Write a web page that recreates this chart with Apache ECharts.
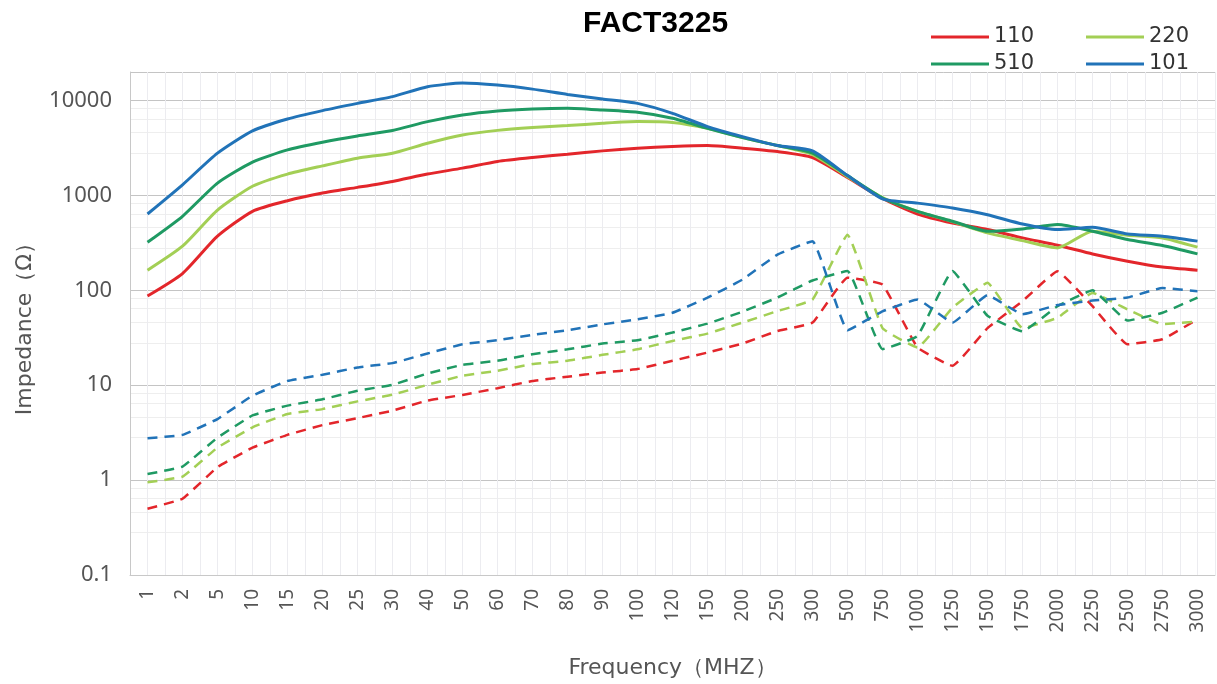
<!DOCTYPE html>
<html>
<head>
<meta charset="utf-8">
<script src="https://cdn.jsdelivr.net/npm/echarts@6/dist/echarts.min.js"></script>
<style>html,body{margin:0;padding:0;background:#fff}#c{width:1217px;height:684px}</style>
</head>
<body>
<div id="c"></div>
<script>
const categories = ['1','2','5','10','15','20','25','30','40','50','60','70','80','90','100','120','150','200','250','300','500','750','1000','1250','1500','1750','2000','2250','2500','2750','3000'];
const yTickLabels = ['0.1','1','10','100','1000','10000'];

const solid110 = [87,150,372,680,880,1060,1217,1406,1680,1940,2280,2510,2720,2950,3150,3280,3355,3150,2900,2510,1550,930,638,513,437,357,299,242,203,176,163];
const solid220 = [163,292,700,1250,1680,2050,2470,2790,3550,4340,4850,5190,5450,5760,6000,5880,5100,4070,3355,2700,1580,950,680,530,403,334,280,420,381,357,285];
const solid510 = [321,603,1350,2245,3020,3640,4240,4830,6000,7050,7770,8150,8300,7940,7510,6500,5100,4070,3355,2790,1620,940,680,535,420,444,493,420,343,297,242];
const solid101 = [638,1295,2790,4790,6400,7840,9340,11000,14000,15300,14550,13200,11600,10400,9340,7340,5320,4170,3355,2950,1620,920,830,738,626,500,437,462,393,372,330];

const dashed110 = [0.5,0.636,1.37,2.2,3.0,3.8,4.5,5.4,6.9,7.9,9.3,11.1,12.3,13.6,14.8,18.1,22.1,27.5,37.3,45.7,136,115,25,16,40,77,159,68,27,30.5,49.5];
const dashed220 = [0.95,1.09,2.2,3.6,4.97,5.6,6.76,7.94,10.1,12.6,14.2,16.7,18.1,20.9,23.9,29.3,35,45.7,60.5,80,386,40,25,65.6,120,40,51.5,94,63,44,47];
const dashed510 = [1.16,1.39,2.8,4.8,6.1,7.1,8.75,10.1,13.3,16.4,18.1,21.2,23.9,27.5,29.8,35.9,44.6,59.6,84,127,160,24,33,160,54,37,68,100,48,58,84];
const dashed101 = [2.76,3.0,4.4,7.76,11.1,12.9,15.4,17.1,21.6,27,29.8,33.9,37.9,43.8,49.5,58,83.6,130,238,330,38,60,80,45.7,89,56,70,78,84,106,98];

const C110 = '#e3262b', C220 = '#a3cf55', C510 = '#1f9a63', C101 = '#2173b8';

function solid(name, data, color) {
  return { name, type: 'line', data, symbol: 'none', smooth: 0.2, color,
    lineStyle: { width: 3, color }, xAxisIndex: 0, yAxisIndex: 0, z: 3 };
}
function dashed(name, data, color) {
  return { name, type: 'line', data, symbol: 'none', smooth: 0.1, color,
    lineStyle: { width: 2.5, color, type: [10, 7] }, xAxisIndex: 0, yAxisIndex: 0, z: 2 };
}

const legendCommon = {
  orient: 'vertical', top: 21, itemWidth: 58, itemHeight: 3, itemGap: 5, icon: 'rect',
  textStyle: { fontSize: 21, lineHeight: 22, color: '#333', fontFamily: 'DejaVu Sans, sans-serif', padding: [0, 0, 0, 0] }
};

const chart = echarts.init(document.getElementById('c'), null, { renderer: 'canvas' });
chart.setOption({
  animation: false,
  backgroundColor: '#ffffff',
  title: {
    text: 'FACT3225', left: 578, top: 4,
    textStyle: { fontFamily: 'Liberation Sans, Arial, sans-serif', fontWeight: 'bold', fontSize: 30, color: '#000' }
  },
  legend: [
    Object.assign({ data: ['110', '510'], left: 926 }, legendCommon),
    Object.assign({ data: ['220', '101'], left: 1081 }, legendCommon)
  ],
  grid: { left: 130, right: 2, top: 72, bottom: 106, containLabel: false },
  xAxis: [
    {
      type: 'category', data: categories, boundaryGap: true,
      name: 'Frequency（MHZ）', nameLocation: 'middle', nameGap: 82,
      nameTextStyle: { fontSize: 22, color: '#555', fontFamily: 'DejaVu Sans, sans-serif' },
      axisLine: { show: true, lineStyle: { color: '#c8c8c8', width: 1 } },
      axisTick: { show: false },
      axisLabel: { rotate: 90, fontSize: 19, color: '#555', margin: 14, interval: 0, fontFamily: 'Noto Sans, sans-serif' },
      splitLine: { show: true, interval: 0, lineStyle: { color: '#b4b4bc', width: 1 } }
    },
    {
      type: 'value', min: 0, max: 62, interval: 1, show: true,
      axisLine: { show: false }, axisTick: { show: false }, axisLabel: { show: false },
      splitLine: { show: true, lineStyle: { color: '#ececf0', width: 1 } }
    }
  ],
  yAxis: {
    type: 'log', logBase: 10, min: 0.1, max: 20000,
    name: 'Impedance（Ω）', nameLocation: 'middle', nameGap: 94,
    nameTextStyle: { fontSize: 22, color: '#555', fontFamily: 'DejaVu Sans, sans-serif' },
    axisLine: { show: true, lineStyle: { color: '#c8c8c8' } },
    axisTick: { show: false },
    axisLabel: {
      fontSize: 22, color: '#555', margin: 18, fontFamily: 'Noto Sans, sans-serif',
      showMaxLabel: false,
      formatter: function (v) {
        const s = String(Number(v.toPrecision(6)));
        return yTickLabels.indexOf(s) >= 0 ? s : '';
      }
    },
    splitLine: { show: true, lineStyle: { color: '#c4c4c4', width: 1 } },
    minorTick: { show: false, splitNumber: 5 },
    minorSplitLine: { show: true, lineStyle: { color: '#eeeeee', width: 1 } }
  },
  series: [
    solid('110', solid110, C110),
    solid('220', solid220, C220),
    solid('510', solid510, C510),
    solid('101', solid101, C101),
    dashed('110 dashed', dashed110, C110),
    dashed('220 dashed', dashed220, C220),
    dashed('510 dashed', dashed510, C510),
    dashed('101 dashed', dashed101, C101)
  ]
});
</script>
</body>
</html>
